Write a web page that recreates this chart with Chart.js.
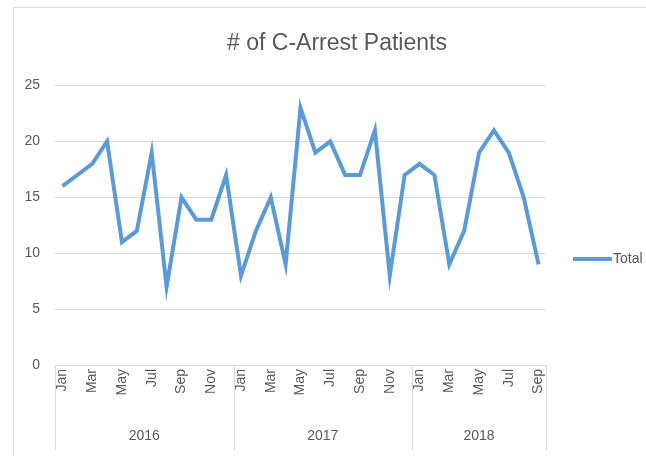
<!DOCTYPE html>
<html>
<head>
<meta charset="utf-8">
<style>
  html, body { margin: 0; padding: 0; background: #fff; }
  #wrap { width: 646px; height: 456px; position: relative; }
</style>
<script src="https://cdn.jsdelivr.net/npm/chart.js@4"></script>
</head>
<body>
<div id="wrap"><canvas id="chart" width="646" height="456"></canvas></div>
<script>
const years = ['2016', '2017', '2018'];
const monthsPerYear = [12, 12, 9];
const monthNames = ['Jan', 'Feb', 'Mar', 'Apr', 'May', 'Jun', 'Jul', 'Aug', 'Sep', 'Oct', 'Nov', 'Dec'];
const totals2016 = [16, 17, 18, 20, 11, 12, 19, 7, 15, 13, 13, 17];
const totals2017 = [8, 12, 15, 9, 23, 19, 20, 17, 17, 21, 8, 17];
const totals2018 = [18, 17, 9, 12, 19, 21, 19, 15, 9];
const yTicks = [0, 5, 10, 15, 20, 25];

const labels = [];
monthsPerYear.forEach(n => {
    for (let i = 0; i < n; i++) labels.push(monthNames[i]);
});
const values = totals2016.concat(totals2017, totals2018);

const lineColor = '#5b9bd5';
const textColor = '#595959';
const fontFamily = "'Liberation Sans Narrow', 'Liberation Sans', sans-serif";

// year row under the month labels, outer border and the side legend
const yearRows = {
    id: 'yearRows',
    afterLayout (chart) {
        // Excel centres the title a bit right of the canvas middle
        if (chart.titleBlock) chart.titleBlock.left = 28;
    },
    beforeDraw (chart) {
        const ctx = chart.ctx;
        ctx.save();
        ctx.strokeStyle = '#d9d9d9';
        ctx.lineWidth = 1;
        ctx.beginPath();
        ctx.moveTo(13.5, 456);
        ctx.lineTo(13.5, 7.5);
        ctx.lineTo(646, 7.5);
        ctx.stroke();
        ctx.restore();
    },
    afterDraw (chart) {
        const ctx = chart.ctx;
        const x = chart.scales.x;
        const top = chart.chartArea.bottom;
        const step = x.getPixelForValue(1) - x.getPixelForValue(0);
        ctx.save();
        ctx.strokeStyle = '#d9d9d9';
        ctx.lineWidth = 1;
        let start = 0;
        const edges = [0];
        monthsPerYear.forEach(n => { start += n; edges.push(start); });
        edges.forEach(idx => {
            const px = Math.round(x.getPixelForValue(0) - step / 2 + idx * step) + 0.5;
            ctx.beginPath();
            ctx.moveTo(px, top);
            ctx.lineTo(px, 450);
            ctx.stroke();
        });
        ctx.fillStyle = textColor;
        ctx.font = '14px ' + fontFamily;
        ctx.textAlign = 'center';
        ctx.textBaseline = 'middle';
        years.forEach((yr, i) => {
            const left = x.getPixelForValue(0) - step / 2 + edges[i] * step;
            const right = x.getPixelForValue(0) - step / 2 + edges[i + 1] * step;
            ctx.fillText(yr, (left + right) / 2, 436);
        });

        // legend
        const ds = chart.data.datasets[0];
        ctx.strokeStyle = ds.borderColor;
        ctx.lineWidth = 4;
        ctx.beginPath();
        ctx.moveTo(573, 259);
        ctx.lineTo(612, 259);
        ctx.stroke();
        ctx.textAlign = 'left';
        ctx.fillText(ds.label, 613, 259);
        ctx.restore();
    }
};

new Chart(
    document.getElementById('chart'),
    {
        type: 'line',
        plugins: [yearRows],
        data: {
            labels: labels,
            datasets: [
                {
                    label: 'Total',
                    data: values,
                    borderColor: lineColor,
                    backgroundColor: lineColor,
                    borderWidth: 4,
                    pointRadius: 0,
                    tension: 0
                }
            ]
        },
        options: {
            responsive: false,
            animation: false,
            layout: {
                padding: { left: 0, right: 0, top: 8, bottom: 0 }
            },
            plugins: {
                title: {
                    display: true,
                    text: '# of C-Arrest Patients',
                    color: textColor,
                    font: { family: fontFamily, size: 23, weight: 'normal' },
                    padding: { top: 22, bottom: 28 }
                },
                legend: { display: false },
                tooltip: { enabled: false }
            },
            scales: {
                x: {
                    offset: true,
                    grid: { display: false, drawTicks: false },
                    border: { display: true, color: '#d9d9d9' },
                    ticks: {
                        autoSkip: false,
                        maxRotation: 90,
                        minRotation: 90,
                        color: textColor,
                        font: { family: fontFamily, size: 14 },
                        padding: 4,
                        callback: (value, index) => index % 2 === 0 ? labels[index] : ''
                    },
                    afterFit: (scale) => { scale.height = 91; }
                },
                y: {
                    min: 0,
                    max: 25,
                    afterBuildTicks: (scale) => { scale.ticks = yTicks.map(v => ({ value: v })); },
                    grid: { color: '#d9d9d9', drawTicks: false },
                    border: { display: false },
                    ticks: {
                        color: textColor,
                        font: { family: fontFamily, size: 14 },
                        padding: 15
                    },
                    afterFit: (scale) => { scale.width = 55; }
                },
                // empty right-hand box that keeps room for the legend
                legendSpace: {
                    position: 'right',
                    grid: { display: false, drawTicks: false },
                    border: { display: false },
                    ticks: { display: false },
                    afterFit: (scale) => { scale.width = 100; }
                }
            }
        }
    }
);
</script>
</body>
</html>
